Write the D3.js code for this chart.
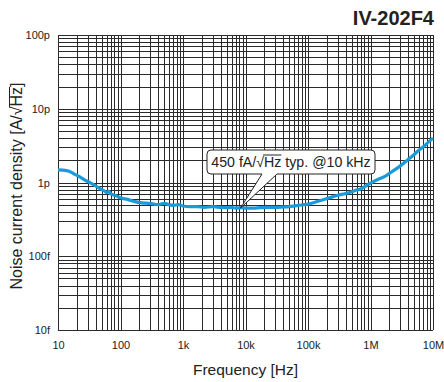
<!DOCTYPE html>
<html><head><meta charset="utf-8">
<script src="https://cdn.jsdelivr.net/npm/d3@7"></script>
<style>
body{margin:0;background:#fff;}
svg{display:block;font-family:"Liberation Sans",Arial,Helvetica,sans-serif;}
</style></head>
<body><svg id="c" width="444" height="382"></svg>
<script>
const title = "IV-202F4";
const xTickValues = [10, 100, 1e3, 1e4, 1e5, 1e6, 1e7];
const xTickLabels = ["10", "100", "1k", "10k", "100k", "1M", "10M"];
const yTickValues = [100, 10, 1, 0.1, 0.01];
const yTickLabels = ["100p", "10p", "1p", "100f", "10f"];
const freq = [10, 12, 15, 18, 22, 27, 33, 40, 50, 55, 60, 65, 70, 85, 100, 130, 170, 220, 300, 400, 500, 600, 700, 850,
  1000, 1300, 1700, 2200, 3000, 4000, 5000, 6000, 7000, 8500, 10000, 13000, 17000, 22000, 30000, 40000, 50000,
  60000, 70000, 85000, 100000, 130000, 170000, 220000, 300000, 400000, 500000, 600000, 700000, 850000,
  1e6, 1.3e6, 1.7e6, 2.2e6, 3e6, 4e6, 5e6, 6e6, 7e6, 8.5e6, 1e7];
const noisePA = [1.48, 1.47, 1.42, 1.31, 1.20, 1.08, 0.99, 0.90, 0.80, 0.77, 0.73, 0.76, 0.70, 0.66, 0.62, 0.59, 0.55, 0.53, 0.52, 0.50, 0.52, 0.50, 0.49, 0.50,
  0.48, 0.47, 0.47, 0.46, 0.47, 0.46, 0.455, 0.46, 0.45, 0.455, 0.45, 0.45, 0.455, 0.46, 0.46, 0.465, 0.47,
  0.48, 0.49, 0.50, 0.51, 0.54, 0.58, 0.62, 0.67, 0.71, 0.75, 0.79, 0.82, 0.90,
  0.98, 1.10, 1.21, 1.40, 1.68, 2.05, 2.40, 2.75, 3.05, 3.55, 4.0];
const annotationText = ["450 fA/", "√", "Hz", " typ. @10 kHz"];
const annotFreq = 10000, annotVal = 0.45;

const svg = d3.select("#c");
const L = 58, R = 433, T = 35, B = 330;
const x = d3.scaleLog().domain([10, 1e7]).range([L, R]);
const y = d3.scaleLog().domain([0.01, 100]).range([B, T]);

// grid
const g = svg.append("g");
const xGrid = [];
for (let d = 10; d < 1e7; d *= 10) for (let k = 1; k <= 10; k++) xGrid.push(d * k);
const yGrid = [];
for (let d = 0.01; d < 99; d *= 10) for (let k = 1; k <= 10; k++) yGrid.push(d * k);
g.selectAll(".vx").data(xGrid).join("line")
  .attr("x1", d => Math.round(x(d)) + 0.5).attr("x2", d => Math.round(x(d)) + 0.5)
  .attr("y1", T).attr("y2", B).attr("stroke", "#2a2a2a").attr("stroke-width", 1);
g.selectAll(".hy").data(yGrid).join("line")
  .attr("y1", d => Math.round(y(d)) + 0.5).attr("y2", d => Math.round(y(d)) + 0.5)
  .attr("x1", L).attr("x2", R).attr("stroke", "#2a2a2a").attr("stroke-width", 1);

// axes labels via d3 axis
const xAxis = d3.axisBottom(x).tickValues(xTickValues).tickFormat((d, i) => xTickLabels[i]).tickSize(0).tickPadding(11);
const xa = svg.append("g").attr("transform", `translate(0,${B})`).call(xAxis);
xa.select(".domain").remove();
xa.selectAll("text").attr("font-size", 11).attr("fill", "#222").attr("font-family", "Liberation Sans, Arial, sans-serif");
const yAxis = d3.axisLeft(y).tickValues(yTickValues).tickFormat((d, i) => yTickLabels[i]).tickSize(0).tickPadding(8);
const ya = svg.append("g").attr("transform", `translate(${L},0)`).call(yAxis);
ya.select(".domain").remove();
ya.selectAll("text").attr("font-size", 11).attr("fill", "#222").attr("font-family", "Liberation Sans, Arial, sans-serif");

// curve
const line = d3.line().x((d, i) => x(freq[i])).y(d => y(d)).curve(d3.curveMonotoneX);
svg.append("path").datum(noisePA).attr("d", line).attr("fill", "none")
  .attr("stroke", "#1a9ad8").attr("stroke-width", 3.2).attr("stroke-linejoin", "round");

// annotation
const bx = 207, by = 150, bw = 168, bh = 24;
const tipX = x(annotFreq) - 5, tipY = y(annotVal);
const ann = svg.append("g");
ann.append("path")
  .attr("d", `M${bx + 4},${by} H${bx + bw - 4} Q${bx + bw},${by} ${bx + bw},${by + 4} V${by + bh - 4} Q${bx + bw},${by + bh} ${bx + bw - 4},${by + bh} H277 L${tipX},${tipY} L262,${by + bh} H${bx + 4} Q${bx},${by + bh} ${bx},${by + bh - 4} V${by + 4} Q${bx},${by} ${bx + 4},${by} Z`)
  .attr("fill", "#fff").attr("stroke", "#222").attr("stroke-width", 1);
const at = ann.append("text").attr("x", bx + bw / 2).attr("y", by + 17).attr("text-anchor", "middle")
  .attr("font-size", 14.2).attr("fill", "#222");
at.append("tspan").text(annotationText[0]);
at.append("tspan").text(annotationText[1]);
at.append("tspan").text(annotationText[2]);
at.append("tspan").text(annotationText[3]);
// overline
{
  const t = at.node();
  const nChars = annotationText[0].length + annotationText[1].length;
  const s = t.getStartPositionOfChar(nChars), e = t.getEndPositionOfChar(nChars + 1);
  ann.append("line").attr("x1", s.x - 1).attr("x2", e.x).attr("y1", by + 5).attr("y2", by + 5)
    .attr("stroke", "#222").attr("stroke-width", 1);
}

// title
svg.append("text").attr("x", 434).attr("y", 25).attr("text-anchor", "end")
  .attr("font-size", 20).attr("font-weight", "bold").attr("fill", "#222").text(title);

// x title
svg.append("text").attr("x", (L + R) / 2).attr("y", 375).attr("text-anchor", "middle")
  .attr("font-size", 15.5).attr("fill", "#222").text("Frequency [Hz]");

// y title
const ytX = 22, ytY = 186;
const yt = svg.append("text").attr("transform", `translate(${ytX},${ytY}) rotate(-90)`)
  .attr("text-anchor", "middle").attr("font-size", 16).attr("fill", "#222");
yt.append("tspan").text("Noise current density [A/");
yt.append("tspan").text("√");
yt.append("tspan").text("Hz");
yt.append("tspan").text("]");
{
  const t = yt.node();
  const base = "Noise current density [A/√".length;
  const s = t.getStartPositionOfChar(base), e = t.getEndPositionOfChar(base + 1);
  svg.append("line").attr("transform", `translate(${ytX},${ytY}) rotate(-90)`)
    .attr("x1", s.x - 1).attr("x2", e.x).attr("y1", -12.5).attr("y2", -12.5)
    .attr("stroke", "#222").attr("stroke-width", 1);
}
</script></body></html>
